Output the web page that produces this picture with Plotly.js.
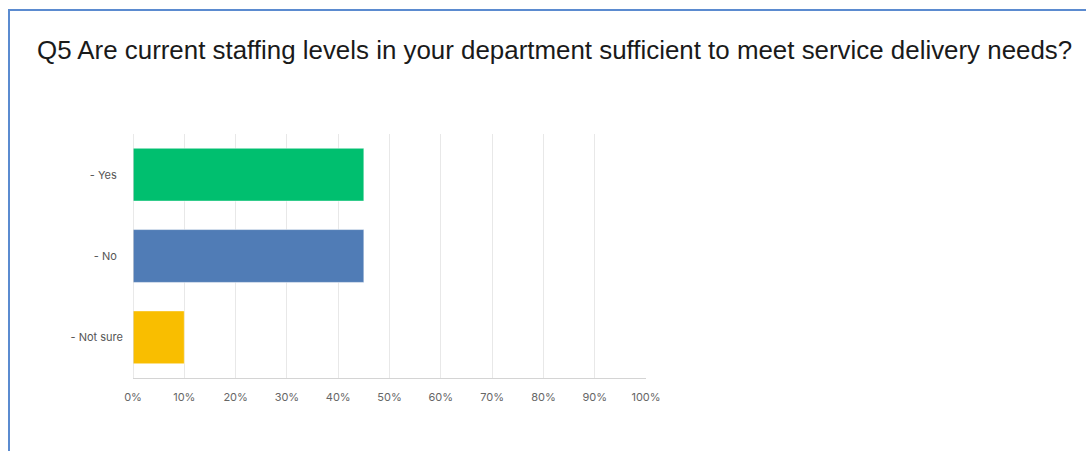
<!DOCTYPE html>
<html>
<head>
<meta charset="utf-8">
<script src="https://cdn.plot.ly/plotly-3.0.1.min.js"></script>
<style>
  html, body { margin: 0; padding: 0; background: #fff; overflow: hidden; }
  #frame { position: absolute; left: 8px; top: 9px; width: 1100px; height: 460px;
           border-left: 2px solid #5b8bd0; border-top: 2px solid #5b8bd0; pointer-events: none; }
  #chart { position: absolute; left: 0; top: 0; width: 1086px; height: 451px; }
</style>
</head>
<body>
<div id="chart"></div>
<div id="frame"></div>
<script>
const titleText = "Q5 Are current staffing levels in your department sufficient to meet service delivery needs?";
const categories = ["- Yes", "- No", "- Not sure"];
const categoryLabels = ["- Yes\u00a0\u00a0", "- No\u00a0\u00a0", "- Not sure"];
const percentages = [45, 45, 10];
const barColors = ["#00bf6f", "#507cb6", "#f9be00"];
const xTickValues = [0, 10, 20, 30, 40, 50, 60, 70, 80, 90, 100];
const xTickLabels = ["0%", "10%", "20%", "30%", "40%", "50%", "60%", "70%", "80%", "90%", "100%"];

const trace = {
  type: "bar",
  orientation: "h",
  y: categories,
  x: percentages,
  marker: { color: barColors, line: { color: "rgba(255,255,255,0.5)", width: 1 } },
  hoverinfo: "x+y",
  showlegend: false
};

const layout = {
  width: 1086,
  height: 451,
  paper_bgcolor: "#ffffff",
  plot_bgcolor: "#ffffff",
  margin: { l: 133, r: 440, t: 134, b: 73, pad: 0 },
  bargap: 0.35,
  title: {
    text: titleText,
    font: { family: "Liberation Sans, Arial, sans-serif", size: 25.9, color: "#1a1a1a" },
    xref: "container", yref: "container",
    x: 37 / 1086, xanchor: "left",
    y: 1 - 50 / 451, yanchor: "middle"
  },
  xaxis: {
    range: [0, 100],
    tickmode: "array",
    tickvals: xTickValues,
    ticktext: xTickLabels,
    showgrid: true,
    gridcolor: "#e8e8e8",
    gridwidth: 1,
    zeroline: false,
    showline: true,
    linecolor: "#d4d4d4",
    linewidth: 1,
    ticks: "",
    ticklabelstandoff: 9,
    tickfont: { family: "Inter, Roboto, sans-serif", size: 11, color: "#666666" },
    fixedrange: true
  },
  yaxis: {
    type: "category",
    autorange: "reversed",
    tickmode: "array",
    tickvals: categories,
    ticktext: categoryLabels,
    showgrid: false,
    zeroline: false,
    showline: false,
    ticks: "",
    ticklabelstandoff: 9,
    tickfont: { family: "Inter, Roboto, sans-serif", size: 11, color: "#555555" },
    fixedrange: true
  },
  shapes: [{
    type: "line", xref: "x", yref: "paper",
    x0: 0, x1: 0, y0: 0, y1: 1,
    line: { color: "#d4d4d4", width: 1 }
  }]
};

Plotly.newPlot("chart", [trace], layout, { displayModeBar: false, staticPlot: true });
</script>
</body>
</html>
